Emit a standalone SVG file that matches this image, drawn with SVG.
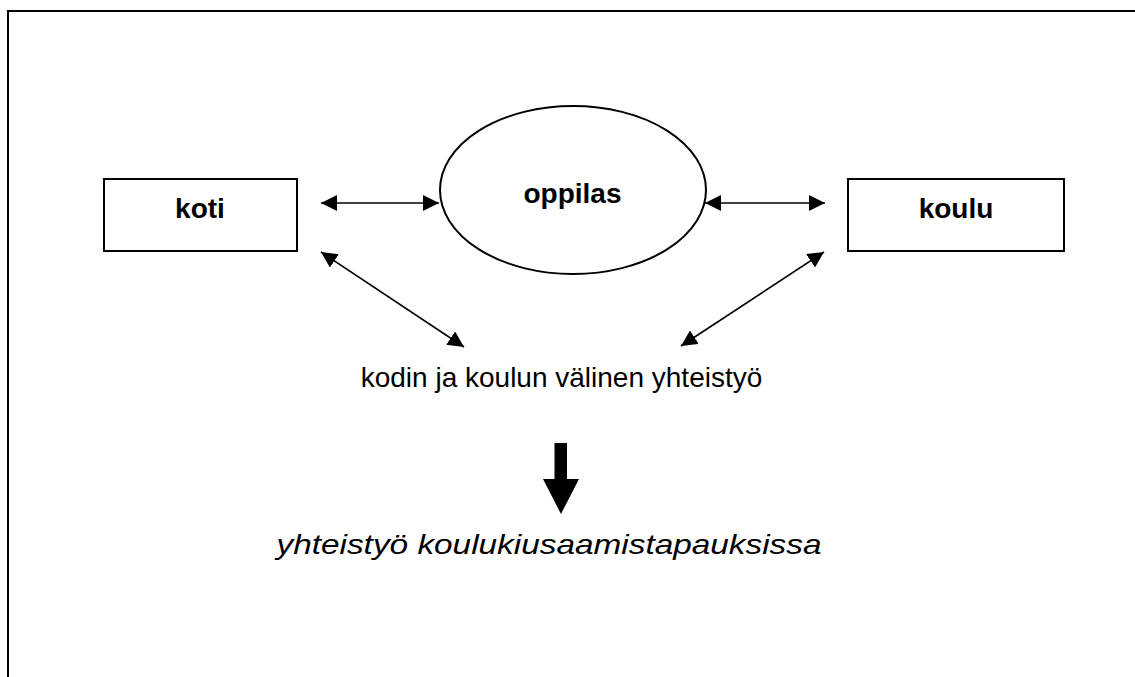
<svg xmlns="http://www.w3.org/2000/svg" width="1135" height="677" viewBox="0 0 1135 677">
<defs>
<marker id="ah" viewBox="0 0 16 16" refX="16" refY="8" markerWidth="16" markerHeight="16" markerUnits="userSpaceOnUse" orient="auto-start-reverse">
<path d="M0,0 L16,8 L0,16 Z" fill="#000"/>
</marker>
</defs>
<style>
.node{fill:#fff;stroke:#000;stroke-width:2}
.lbl{font-family:"Liberation Sans",Arial,sans-serif;font-size:28px;font-weight:bold;text-anchor:middle;fill:#000}
.txt{font-family:"Liberation Sans",Arial,sans-serif;font-size:28px;text-anchor:middle;fill:#000}
.conn{stroke:#000;stroke-width:1.6;fill:none;marker-start:url(#ah);marker-end:url(#ah)}
</style>
<rect width="1135" height="677" fill="#fff"/>
<g id="frame">
<line x1="8" y1="11" x2="1135" y2="11" stroke="#000" stroke-width="2"/>
<line x1="8" y1="10" x2="8" y2="677" stroke="#000" stroke-width="2"/>
</g>
<g id="koti">
<rect class="node" x="104" y="179" width="193" height="72"/>
<text class="lbl" x="200" y="218">koti</text>
</g>
<g id="oppilas">
<ellipse class="node" cx="573" cy="190" rx="133" ry="84"/>
<text class="lbl" x="572.5" y="203">oppilas</text>
</g>
<g id="koulu">
<rect class="node" x="848" y="179" width="216" height="72"/>
<text class="lbl" x="956" y="218">koulu</text>
</g>
<g id="yhteistyo">
<text class="txt" x="561.5" y="387">kodin ja koulun välinen yhteistyö</text>
</g>
<g id="kiusaaminen">
<text class="txt" x="549" y="554" font-style="italic" font-size="31" textLength="545" lengthAdjust="spacingAndGlyphs">yhteistyö koulukiusaamistapauksissa</text>
</g>
<g id="connectors">
<line class="conn" x1="321" y1="203" x2="439" y2="203"/>
<line class="conn" x1="705" y1="203" x2="825" y2="203"/>
<line class="conn" x1="321" y1="252" x2="464" y2="347"/>
<line class="conn" x1="824" y1="252" x2="681" y2="346"/>
<polygon points="554.5,443 567,443 567,479 579,479 561,514 543,479 554.5,479" fill="#000"/>
</g>
</svg>
